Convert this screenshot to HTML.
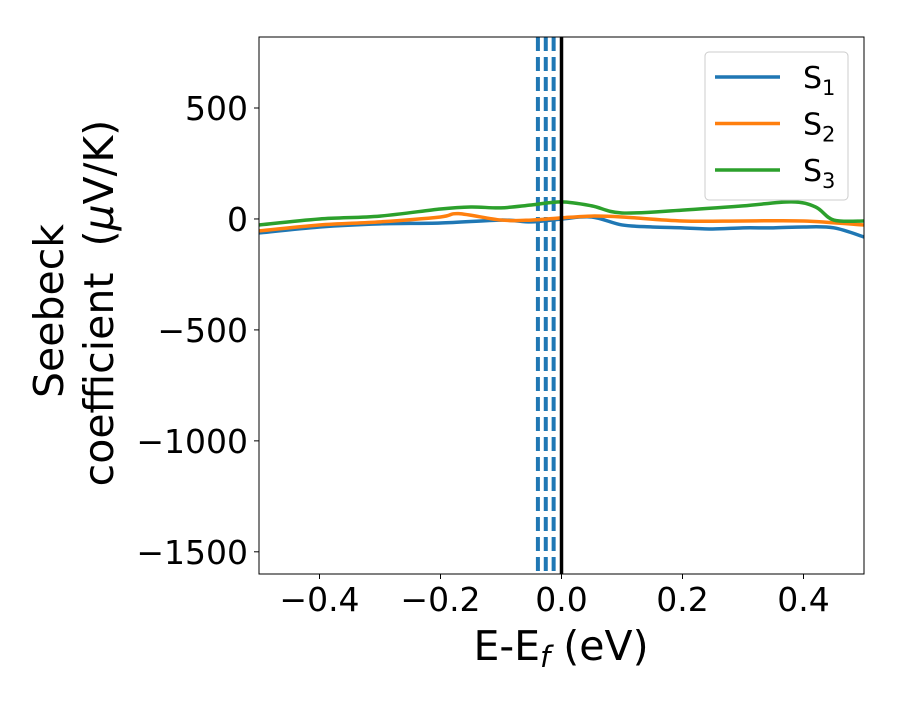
<!DOCTYPE html>
<html><head><meta charset="utf-8"><style>
body{margin:0;background:#fff;}
text{font-family:"DejaVu Sans","Liberation Sans",sans-serif;fill:#000;}
</style></head><body>
<svg id="chart" width="900" height="700" xmlns="http://www.w3.org/2000/svg">
<g id="plot"></g>
</svg>
<script>
const xs1=[-0.5,-0.4,-0.3,-0.2,-0.1,-0.05,0,0.05,0.1,0.15,0.2,0.25,0.3,0.35,0.4,0.45,0.5];
const s1=[-63,-36,-22,-18,-5,-13,0,9,-27,-36,-40,-45,-40,-40,-36,-40,-81];
const xs2=[-0.5,-0.4,-0.3,-0.2,-0.17,-0.1,-0.05,0,0.05,0.1,0.2,0.3,0.4,0.5];
const s2=[-54,-27,-13,9,24,-5,-5,5,13,9,-9,-9,-9,-27];
const xs3=[-0.5,-0.4,-0.3,-0.2,-0.15,-0.1,-0.05,0,0.05,0.1,0.2,0.3,0.38,0.42,0.45,0.5];
const s3=[-27,0,13,45,54,50,63,77,59,27,40,59,77,54,-5,-9];
const dashedX=[-0.039,-0.026,-0.013];
const xTicks=[-0.4,-0.2,0.0,0.2,0.4];
const xTickLabels=["\u22120.4","\u22120.2","0.0","0.2","0.4"];
const yTicks=[500,0,-500,-1000,-1500];
const yTickLabels=["500","0","\u2212500","\u22121000","\u22121500"];
const L=259,R=864,T=37,B=574,X0=-0.5,X1=0.5,Y0=-1600,Y1=820;
const sx=v=>L+(v-X0)/(X1-X0)*(R-L);
const sy=v=>B-(v-Y0)/(Y1-Y0)*(B-T);
const NS="http://www.w3.org/2000/svg";
const svg=document.getElementById('chart');
function mk(tag,attrs,parent){const e=document.createElementNS(NS,tag);for(const k in attrs)e.setAttribute(k,attrs[k]);(parent||svg).appendChild(e);return e;}
function smooth(xs,ys){const p=xs.map((x,i)=>[sx(x),sy(ys[i])]);let d=`M${p[0][0]},${p[0][1]}`;for(let i=0;i<p.length-1;i++){const a=p[i-1]||p[i],b=p[i],c=p[i+1],e=p[i+2]||c;d+=` C${b[0]+(c[0]-a[0])/6},${b[1]+(c[1]-a[1])/6} ${c[0]-(e[0]-b[0])/6},${c[1]-(e[1]-b[1])/6} ${c[0]},${c[1]}`;}return d;}
const clip=mk('clipPath',{id:'cp'});mk('rect',{x:L,y:T,width:R-L,height:B-T},clip);
const g=mk('g',{'clip-path':'url(#cp)'});


const series=[[xs1,s1,'#1f77b4','series-s1'],[xs2,s2,'#ff7f0e','series-s2'],[xs3,s3,'#2ca02c','series-s3']];
dashedX.forEach((v,i)=>{const l=mk('line',{x1:sx(v),x2:sx(v),y1:T,y2:B,stroke:'#1f77b4','stroke-width':4,'stroke-dasharray':'14,6'},g);

});
series.forEach(s=>{const p=mk('path',{d:smooth(s[0],s[1]),fill:'none',stroke:s[2],'stroke-width':3.5},g);

});
const fl=mk('line',{x1:sx(0),x2:sx(0),y1:T,y2:B,stroke:'#000','stroke-width':3.5},g);


const fr=mk('rect',{x:L,y:T,width:R-L,height:B-T,fill:'none',stroke:'#000','stroke-width':1});


xTicks.forEach((v,i)=>{mk('line',{x1:sx(v),x2:sx(v),y1:B,y2:B+5,stroke:'#000'});
const t=mk('text',{x:sx(v),y:B+37,'font-size':33,'text-anchor':'middle'});t.textContent=xTickLabels[i];

});
yTicks.forEach((v,i)=>{mk('line',{x1:L-5,x2:L,y1:sy(v),y2:sy(v),stroke:'#000'});
const t=mk('text',{x:L-11,y:sy(v)+12,'font-size':33,'text-anchor':'end'});t.textContent=yTickLabels[i];

});
const xt=mk('text',{x:561,y:660,'font-size':41,'text-anchor':'middle'});
xt.innerHTML='E-E<tspan font-style="italic" font-size="29" dy="7">f</tspan><tspan dy="-7"> (eV)</tspan>';


const yt=mk('text',{transform:'translate(63,303) rotate(-90)','font-size':41,'text-anchor':'middle'});
yt.innerHTML='<tspan x="-8" dy="0">Seebeck</tspan><tspan x="0" dy="50">coefficient\u00a0\u00a0(<tspan font-style="italic">μ</tspan>V/K)</tspan>';


const lg=mk('g',{});


mk('rect',{x:705,y:52,width:143,height:148,rx:4,fill:'#fff',stroke:'#ccc','stroke-width':1},lg);
series.forEach((s,i)=>{const y=77+i*46.5;mk('line',{x1:715,x2:780,y1:y,y2:y,stroke:s[2],'stroke-width':3.5},lg);
const t=mk('text',{x:803,y:y+11,'font-size':30},lg);t.innerHTML='S<tspan font-size="21" dy="7">'+(i+1)+'</tspan>';

});
</script>
</body></html>
